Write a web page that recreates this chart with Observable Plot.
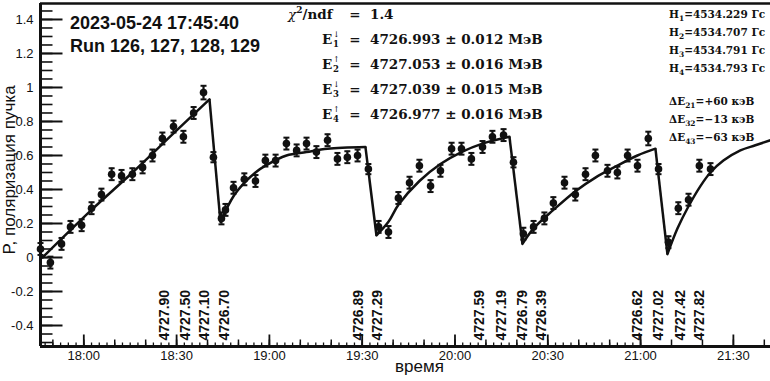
<!DOCTYPE html>
<html><head><meta charset="utf-8">
<script src="https://cdn.jsdelivr.net/npm/d3@7"></script>
<script src="https://cdn.jsdelivr.net/npm/@observablehq/plot@0.6"></script>
<style>
body{margin:0;background:#fff}
svg{display:block}
</style>
</head><body><div id="chart"></div>
<script>
// time in minutes after 18:00
const pointTime = [-14.0,-10.8,-7.2,-4.3,-0.7,2.5,5.7,9.0,12.2,15.7,19.0,22.2,25.4,29.0,32.2,35.5,38.7,41.9,44.5,45.8,
  48.4,51.9,55.5,58.7,62.0,65.5,68.8,72.0,75.2,78.8,82.0,85.2,88.5,92.0,
  95.3,98.5,101.7,105.3,108.5,112.1,115.3,118.9,122.1,125.3,128.9,132.1,135.7,138.9,
  142.1,145.4,148.9,151.8,155.4,158.9,162.2,165.4,169.3,172.5,175.8,179.0,182.5,185.8,
  189.0,192.2,195.5,199.0,202.6];
const pointP = [0.05,-0.03,0.08,0.18,0.19,0.29,0.37,0.49,0.48,0.49,0.53,0.60,0.70,0.77,0.71,0.85,0.97,0.59,0.23,0.28,
  0.41,0.46,0.45,0.57,0.57,0.67,0.63,0.67,0.62,0.69,0.58,0.59,0.60,0.52,
  0.18,0.15,0.35,0.44,0.54,0.42,0.51,0.64,0.64,0.58,0.65,0.71,0.72,0.56,
  0.14,0.18,0.23,0.32,0.44,0.37,0.49,0.60,0.51,0.50,0.60,0.54,0.70,0.52,
  0.09,0.29,0.34,0.54,0.52];
const pointErr = [0.035,0.035,0.035,0.035,0.035,0.035,0.035,0.035,0.035,0.035,0.035,0.035,0.035,0.035,0.035,0.035,0.04,0.03,0.035,0.035,
  0.035,0.035,0.035,0.035,0.035,0.035,0.035,0.035,0.035,0.035,0.035,0.035,0.035,0.03,
  0.035,0.035,0.035,0.035,0.035,0.035,0.035,0.035,0.035,0.035,0.035,0.035,0.035,0.03,
  0.035,0.035,0.035,0.035,0.035,0.035,0.035,0.035,0.035,0.035,0.035,0.035,0.04,0.03,
  0.035,0.035,0.035,0.035,0.035];

// fitted curve, read along each rising part (segment id)
const fitSeg  = [1,1,1,1,1, 2,2,2,2,2,2,2,2,2, 3,3,3,3,3,3,3,3, 4,4,4,4,4,4,4,4, 5,5,5,5,5,5,5,5,5];
const fitTime = [-13.35,2.49,15.74,28.99,40.63,
  44.18,48.39,51.94,55.50,58.73,65.52,71.98,78.77,91.05,
  94.61,98.49,101.72,108.51,115.30,122.09,128.88,137.61,
  141.81,145.36,151.83,158.94,165.40,172.51,178.98,184.80,
  188.68,191.91,195.46,199.34,202.57,206.77,212.26,217.11,221.96];
const fitP = [0.0,0.28,0.50,0.73,0.93,
  0.21,0.36,0.44,0.50,0.54,0.60,0.62,0.64,0.65,
  0.13,0.21,0.31,0.45,0.55,0.62,0.67,0.71,
  0.08,0.17,0.28,0.39,0.47,0.54,0.60,0.64,
  0.02,0.17,0.30,0.42,0.50,0.57,0.63,0.66,0.69];

const energyTime = [27.4,34.2,40.6,47.1,90.1,96.5,129.5,136.6,143.4,149.5,180.3,187.4,194.2,200.6];
const energyLabels = ["4727.90","4727.50","4727.10","4726.70","4726.89","4727.29","4727.59","4727.19","4726.79","4726.39","4726.62","4727.02","4727.42","4727.82"];

const timeTicks = [0,30,60,90,120,150,180,210];
const timeTickLabels = ["18:00","18:30","19:00","19:30","20:00","20:30","21:00","21:30"];
const yTicks = [-0.4,-0.2,0,0.2,0.4,0.6,0.8,1,1.2,1.4];
const yTickLabels = ["-0.4","-0.2","0","0.2","0.4","0.6","0.8","1","1.2","1.4"];

const headerLines = ["2023-05-24 17:45:40","Run 126, 127, 128, 129"];
const chiText = "1.4";
const energyFitIdx = ["1","2","3","4"];
const energyFitDir = ["\u2193","\u2191","\u2193","\u2191"];
const energyFitVal = ["4726.993 \u00b1 0.012 \u041c\u044d\u0412","4727.053 \u00b1 0.016 \u041c\u044d\u0412","4727.039 \u00b1 0.015 \u041c\u044d\u0412","4726.977 \u00b1 0.016 \u041c\u044d\u0412"];
const fieldIdx = ["1","2","3","4"];
const fieldVal = ["4534.229","4534.707","4534.791","4534.793"];
const deltaIdx = ["21","32","43"];
const deltaVal = ["+60","\u221213","\u221263"];

const xDomain = [-14.0, 222.0];
const yDomain = [-0.5235, 1.494];

const points = pointTime.map((t,i)=>({t, p: pointP[i], e: pointErr[i]}));
const fit = fitTime.map((t,i)=>({t, p: fitP[i], seg: fitSeg[i]}));
const drops = [];
for (let s = 1; s < 5; s++) {
  const a = fit.filter(d=>d.seg===s), b = fit.filter(d=>d.seg===s+1);
  drops.push({x1: a[a.length-1].t, y1: a[a.length-1].p, x2: b[0].t, y2: b[0].p});
}

const ink = "#111";
const hTick = len => ({draw(ctx){ctx.moveTo(0,0); ctx.lineTo(len,0);}});
const vTick = len => ({draw(ctx){ctx.moveTo(0,0); ctx.lineTo(0,-len);}});
const cap = {draw(ctx){ctx.moveTo(-3,0); ctx.lineTo(3,0);}};

const yMinor = d3.range(-0.5, 1.476, 0.05).map(v=>Math.round(v*100)/100);
const xMinor = d3.range(-12.5, 181, 2.5);
const xMedium = d3.range(-10, 221, 10);

const plot = Plot.plot({
  width: 770, height: 381,
  marginLeft: 40, marginRight: 0, marginTop: 3, marginBottom: 35,
  style: {fontFamily: "'Liberation Sans', Arial, sans-serif", fontSize: "13px", color: ink, background: "#fff"},
  x: {domain: xDomain, axis: null},
  y: {domain: yDomain, axis: null},
  marks: [
    Plot.text(timeTicks, {x: d=>d, frameAnchor: "bottom", text: (d,i)=>timeTickLabels[i], dy: 13, fontSize: 13, fill: ink}),
    Plot.text(yTicks, {y: d=>d, frameAnchor: "left", text: (d,i)=>yTickLabels[i], textAnchor: "end", dx: -7, fontSize: 13, fill: ink}),
    Plot.dot(yMinor, {y: d=>d, frameAnchor: "left", symbol: hTick(12), stroke: ink, strokeWidth: 1.6, fill: "none"}),
    Plot.dot(yTicks, {y: d=>d, frameAnchor: "left", symbol: hTick(22), stroke: ink, strokeWidth: 2, fill: "none"}),
    Plot.dot(xMinor, {x: d=>d, frameAnchor: "bottom", symbol: vTick(4), stroke: ink, strokeWidth: 1.3, fill: "none"}),
    Plot.dot(xMedium, {x: d=>d, frameAnchor: "bottom", symbol: vTick(7), stroke: ink, strokeWidth: 1.5, fill: "none"}),
    Plot.dot(timeTicks, {x: d=>d, frameAnchor: "bottom", symbol: vTick(12), stroke: ink, strokeWidth: 1.8, fill: "none"}),
    Plot.ruleY([yDomain[0]], {stroke: ink, strokeWidth: 3}),
    Plot.ruleY([yDomain[1]], {stroke: ink, strokeWidth: 2.5}),
    Plot.ruleX([xDomain[0]], {stroke: ink, strokeWidth: 3}),
    Plot.text(energyLabels, {x: (d,i)=>energyTime[i], frameAnchor: "bottom", rotate: -90, textAnchor: "start", dy: -6, fontSize: 14, fontWeight: "bold", fill: ink}),
    Plot.line(fit, {x: "t", y: "p", z: "seg", curve: "catmull-rom", stroke: ink, strokeWidth: 2.5}),
    Plot.link(drops, {x1: "x1", y1: "y1", x2: "x2", y2: "y2", stroke: ink, strokeWidth: 2.5}),
    Plot.ruleX(points, {x: "t", y1: d=>d.p-d.e, y2: d=>d.p+d.e, stroke: ink, strokeWidth: 2.2}),
    Plot.dot(points, {x: "t", y: d=>d.p+d.e, symbol: cap, stroke: ink, strokeWidth: 2, fill: "none"}),
    Plot.dot(points, {x: "t", y: d=>d.p-d.e, symbol: cap, stroke: ink, strokeWidth: 2, fill: "none"}),
    Plot.dot(points, {x: "t", y: "p", r: 3.8, fill: ink, stroke: "none"}),
    Plot.text(["P, поляризация пучка"], {frameAnchor: "left", textAnchor: "middle", rotate: -90, dx: -31, dy: -5, fontSize: 17, fill: ink}),
    Plot.text(["время"], {frameAnchor: "bottom", textAnchor: "middle", dx: 14, dy: 25, fontSize: 17, fill: ink})
  ]
});
document.getElementById("chart").appendChild(plot);

const svg = d3.select(plot);
const h = svg.append("g").attr("text-anchor", "start").attr("font-family","'Liberation Sans', Arial, sans-serif")
  .attr("font-size", 18).attr("font-weight","bold").attr("fill", ink);
h.append("text").attr("x", 70).attr("y", 29).text(headerLines[0]);
h.append("text").attr("x", 70).attr("y", 52).text(headerLines[1]);

const serif = "'DejaVu Serif', serif";
const g = svg.append("g").attr("text-anchor", "start").attr("font-family", serif).attr("font-weight", "bold").attr("fill", ink).attr("font-size", 13.5);
const chi = g.append("text").attr("x", 288).attr("y", 19);
chi.append("tspan").attr("font-style","italic").attr("font-weight","normal").text("\u03c7");
chi.append("tspan").attr("font-size", 9).attr("dy", -6).text("2");
chi.append("tspan").attr("dy", 6).text("/ndf");
g.append("text").attr("x", 355).attr("y", 19).attr("text-anchor","middle").text("=");
g.append("text").attr("x", 370).attr("y", 19).text(chiText);
energyFitVal.forEach((v, i) => {
  const y = 44 + i*25;
  g.append("text").attr("x", 322).attr("y", y).text("E");
  g.append("text").attr("x", 333).attr("y", y+3).attr("font-size", 8.5).text(energyFitIdx[i]);
  g.append("text").attr("x", 333).attr("y", y-7).attr("font-size", 8).attr("font-weight","normal").text(energyFitDir[i]);
  g.append("text").attr("x", 355).attr("y", y).attr("text-anchor","middle").text("=");
  g.append("text").attr("x", 370).attr("y", y).text(v);
});
const r = svg.append("g").attr("text-anchor", "start").attr("font-family", serif).attr("font-weight", "bold").attr("fill", ink).attr("font-size", 10.5);
fieldVal.forEach((v, i) => {
  const t = r.append("text").attr("x", 669).attr("y", 18 + i*18);
  t.append("tspan").text("H");
  t.append("tspan").attr("font-size", 7.5).attr("dy", 2.5).text(fieldIdx[i]);
  t.append("tspan").attr("dy", -2.5).text("=" + v + " \u0413\u0441");
});
deltaVal.forEach((v, i) => {
  const t = r.append("text").attr("x", 669).attr("y", 105 + i*18);
  t.append("tspan").text("\u0394E");
  t.append("tspan").attr("font-size", 7.5).attr("dy", 2.5).text(deltaIdx[i]);
  t.append("tspan").attr("dy", -2.5).text("=" + v + " \u043a\u044d\u0412");
});
</script>
</body></html>
